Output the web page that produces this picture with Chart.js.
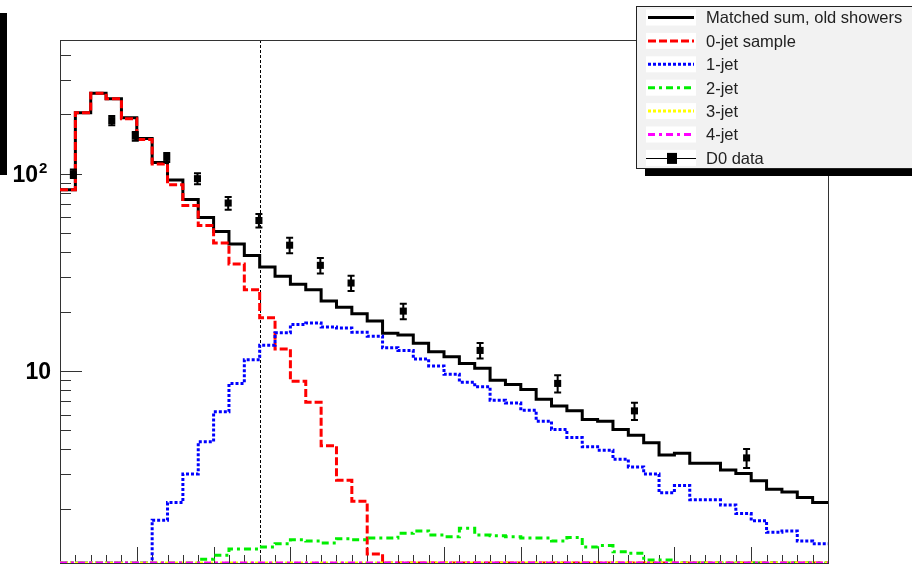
<!DOCTYPE html>
<html>
<head>
<meta charset="utf-8">
<script src="https://cdn.jsdelivr.net/npm/chart.js@4"></script>
<style>
  html, body { margin: 0; padding: 0; background: #fff; }
  #wrap { width: 912px; height: 570px; }
</style>
</head>
<body>
<div id="wrap"><canvas id="myChart" width="912" height="570"></canvas></div>
<script>
// histograms: 50 bins, left edges 0..49 (bin units)
var nBins = 50;

var matchedSum = [83, 204, 256, 240, 192, 151, 114, 93, 74, 60,
                  51, 44, 38.5, 33.6, 30.2, 27.5, 25.8, 22.6, 21.0, 19.5,
                  17.9, 15.5, 15.2, 13.8, 12.5, 11.8, 10.9, 10.3, 8.97, 8.53,
                  8.05, 7.19, 6.63, 6.27, 5.67, 5.56, 5.05, 4.72, 4.32, 3.75,
                  3.82, 3.40, 3.40, 3.14, 3.02, 2.77, 2.51, 2.43, 2.28, 2.15];
var jet0 = [83, 204, 256, 240, 190, 149, 112, 88, 69, 54.7,
            44.5, 34.8, 25.8, 18.6, 12.9, 8.87, 6.94, 4.17, 2.79, 2.18,
            1.18, 0, 0, 0, 0, 0, 0, 0, 0, 0,
            0, 0, 0, 0, 0, 0, 0, 0, 0, 0,
            0, 0, 0, 0, 0, 0, 0, 0, 0, 0];
var jet1 = [0, 0, 0, 0, 0, 0, 1.75, 2.15, 3.0, 4.37,
            6.20, 8.63, 11.4, 13.5, 15.6, 17.2, 17.5, 16.7, 16.5, 15.7,
            15.0, 13.1, 12.7, 11.5, 10.6, 9.62, 8.77, 8.30, 7.10, 6.88,
            6.32, 5.56, 5.05, 4.59, 4.12, 3.96, 3.56, 3.26, 3.0, 2.41,
            2.62, 2.22, 2.22, 2.09, 1.89, 1.74, 1.52, 1.54, 1.37, 1.33];
var jet2 = [0, 0, 0, 0, 0, 0, 0, 0, 0, 1.11,
            1.16, 1.25, 1.25, 1.28, 1.33, 1.39, 1.37, 1.34, 1.41, 1.39,
            1.42, 1.42, 1.50, 1.54, 1.47, 1.44, 1.59, 1.47, 1.46, 1.44,
            1.42, 1.42, 1.37, 1.43, 1.28, 1.30, 1.21, 1.19, 1.10, 1.10,
            0, 0, 0, 0, 0, 0, 0, 0, 0, 0];
var jet3 = [0, 0, 0, 0, 0, 0, 0, 0, 0, 0,
            0, 0, 0, 0, 0, 0, 0, 0, 0, 0,
            0, 0, 0, 0, 0, 0, 0, 0, 0, 0,
            0, 0, 0, 0, 0, 0, 0, 0, 0, 0,
            0, 0, 0, 0, 0, 0, 0, 0, 0, 0];
var jet4 = [0, 0, 0, 0, 0, 0, 0, 0, 0, 0,
            0, 0, 0, 0, 0, 0, 0, 0, 0, 0,
            0, 0, 0, 0, 0, 0, 0, 0, 0, 0,
            0, 0, 0, 0, 0, 0, 0, 0, 0, 0,
            0, 0, 0, 0, 0, 0, 0, 0, 0, 0];

// D0 data points
var d0X   = [0.87, 3.37, 4.9, 6.95, 8.95, 10.95, 12.95, 14.95, 16.95, 18.95, 22.35, 27.35, 32.4, 37.4, 44.7];
var d0Y   = [100, 186, 155, 121, 94.4, 71, 57.9, 43.4, 34.3, 27.9, 20.1, 12.7, 8.64, 6.27, 3.62];
var d0Err = [5, 10, 8, 6.5, 6, 5.3, 4.6, 3.9, 3.1, 2.5, 1.8, 1.15, 0.86, 0.63, 0.4];

var cutX = 13;
var yMin = 1.061, yMax = 476.6;
var yMajor = [10, 100];
var yMinor = [2, 3, 4, 5, 6, 7, 8, 9, 20, 30, 40, 50, 60, 70, 80, 90, 200, 300, 400];

var legendLabels = ["Matched sum, old showers", "0-jet sample", "1-jet", "2-jet", "3-jet", "4-jet", "D0 data"];
var colors = ['#000000', '#ff0000', '#0000ff', '#00ee00', '#ffff00', '#ff00ff'];
var dashes = [[], [8, 3], [3, 2], [7, 4, 3, 4], [3, 2], [7, 4, 3, 4]];

function histPoints(vals) {
    var pts = [];
    for (var i = 0; i < vals.length; i++) {
        pts.push({x: i, y: Math.max(vals[i], yMin)});
    }
    pts.push({x: vals.length, y: Math.max(vals[vals.length - 1], yMin)});
    return pts;
}

var series = [matchedSum, jet0, jet1, jet2, jet3, jet4];
var datasets = [];
for (var s = 0; s < series.length; s++) {
    datasets.push({
        type: 'line',
        label: legendLabels[s],
        data: histPoints(series[s]),
        stepped: true,
        borderColor: colors[s],
        borderWidth: 3,
        borderDash: dashes[s],
        pointRadius: 0,
        fill: false,
        order: 6 - s
    });
}
var d0pts = [];
for (var k = 0; k < d0X.length; k++) d0pts.push({x: d0X[k], y: d0Y[k]});
datasets.push({
    type: 'scatter',
    label: legendLabels[6],
    data: d0pts,
    pointStyle: 'rect',
    pointRadius: 5,
    backgroundColor: '#000',
    borderWidth: 0,
    order: 0
});

var framePlugin = {
    id: 'frame',
    beforeDatasetsDraw: function(chart) {
        var ctx = chart.ctx, a = chart.chartArea;
        var xs = chart.scales.x, ys = chart.scales.y;
        ctx.save();
        // cut line
        ctx.strokeStyle = '#000';
        ctx.lineWidth = 1;
        ctx.setLineDash([3, 2]);
        var cx = Math.round(xs.getPixelForValue(cutX)) + 0.5;
        ctx.beginPath(); ctx.moveTo(cx, a.top); ctx.lineTo(cx, a.bottom); ctx.stroke();
        ctx.setLineDash([]);
        // frame
        ctx.strokeStyle = '#333';
        ctx.strokeRect(a.left + 0.5, a.top + 0.5, a.right - a.left, a.bottom - a.top);
        // y ticks
        ctx.beginPath();
        yMajor.forEach(function(v) {
            var y = Math.round(ys.getPixelForValue(v)) + 0.5;
            ctx.moveTo(a.left, y); ctx.lineTo(a.left + 22, y);
        });
        yMinor.forEach(function(v) {
            var y = Math.round(ys.getPixelForValue(v)) + 0.5;
            ctx.moveTo(a.left, y); ctx.lineTo(a.left + 11, y);
        });
        // x ticks
        for (var i = 0; i <= nBins; i++) {
            var x = Math.round(xs.getPixelForValue(i)) + 0.5;
            ctx.moveTo(x, a.bottom); ctx.lineTo(x, a.bottom - (i % 5 === 0 ? 16 : 8));
        }
        ctx.stroke();
        // y labels
        ctx.fillStyle = '#000';
        ctx.font = 'bold 23px "Liberation Sans", Arial, sans-serif';
        ctx.textAlign = 'right';
        ctx.textBaseline = 'alphabetic';
        var y10 = ys.getPixelForValue(10);
        ctx.fillText('10', 51, y10 + 8.5);
        var y100 = ys.getPixelForValue(100);
        ctx.fillText('10', 38, y100 + 8.5);
        ctx.font = 'bold 15px "Liberation Sans", Arial, sans-serif';
        ctx.textAlign = 'left';
        ctx.fillText('2', 39, y100 - 1);
        ctx.restore();
    },
    afterDatasetsDraw: function(chart) {
        var ctx = chart.ctx;
        var xs = chart.scales.x, ys = chart.scales.y;
        ctx.save();
        ctx.strokeStyle = '#000';
        ctx.lineWidth = 2;
        ctx.beginPath();
        for (var k = 0; k < d0X.length; k++) {
            var x = xs.getPixelForValue(d0X[k]);
            var y1 = ys.getPixelForValue(d0Y[k] + d0Err[k]);
            var y2 = ys.getPixelForValue(d0Y[k] - d0Err[k]);
            ctx.moveTo(x, y1); ctx.lineTo(x, y2);
            ctx.moveTo(x - 3.5, y1); ctx.lineTo(x + 3.5, y1);
            ctx.moveTo(x - 3.5, y2); ctx.lineTo(x + 3.5, y2);
        }
        ctx.stroke();
        ctx.restore();
    },
    afterDraw: function(chart) {
        var ctx = chart.ctx;
        ctx.save();
        // edge of a neighbouring box at top-left
        ctx.fillStyle = '#000';
        ctx.fillRect(0, 13, 7, 162);
        // legend box
        var lx = 636, ly = 6, lw = 290, lh = 162;
        ctx.fillRect(lx + 9, ly + lh + 1, lw, 7);
        ctx.fillStyle = '#f2f2f2';
        ctx.fillRect(lx, ly, lw, lh);
        ctx.strokeStyle = '#222';
        ctx.lineWidth = 1;
        ctx.strokeRect(lx + 0.5, ly + 0.5, lw, lh);
        ctx.font = '16.5px "Liberation Sans", Arial, sans-serif';
        ctx.textAlign = 'left';
        ctx.textBaseline = 'alphabetic';
        for (var r = 0; r < legendLabels.length; r++) {
            var cy = 17.5 + 23.4 * r;
            ctx.fillStyle = '#fff';
            ctx.fillRect(646, cy - 8, 50, 16);
            if (r < 6) {
                ctx.strokeStyle = colors[r];
                ctx.lineWidth = 3;
                ctx.setLineDash(dashes[r]);
                ctx.beginPath(); ctx.moveTo(648, cy); ctx.lineTo(694, cy); ctx.stroke();
                ctx.setLineDash([]);
            } else {
                ctx.strokeStyle = '#000';
                ctx.lineWidth = 1;
                ctx.beginPath(); ctx.moveTo(646, Math.round(cy) + 0.5); ctx.lineTo(696, Math.round(cy) + 0.5); ctx.stroke();
                ctx.fillStyle = '#000';
                ctx.fillRect(667, cy - 5, 10, 11);
            }
            ctx.fillStyle = '#222';
            ctx.fillText(legendLabels[r], 706, cy + 5.9);
        }
        ctx.restore();
    }
};

var ctx = document.getElementById('myChart').getContext('2d');
var myChart = new Chart(ctx, {
    type: 'line',
    data: { datasets: datasets },
    options: {
        responsive: false,
        animation: false,
        devicePixelRatio: 1,
        layout: { padding: { left: 60, top: 40, right: 84, bottom: 7 } },
        plugins: { legend: { display: false }, tooltip: { enabled: false } },
        scales: {
            x: { type: 'linear', min: 0, max: nBins, display: false },
            y: { type: 'logarithmic', min: yMin, max: yMax, display: false }
        }
    },
    plugins: [framePlugin]
});
</script>
</body>
</html>
